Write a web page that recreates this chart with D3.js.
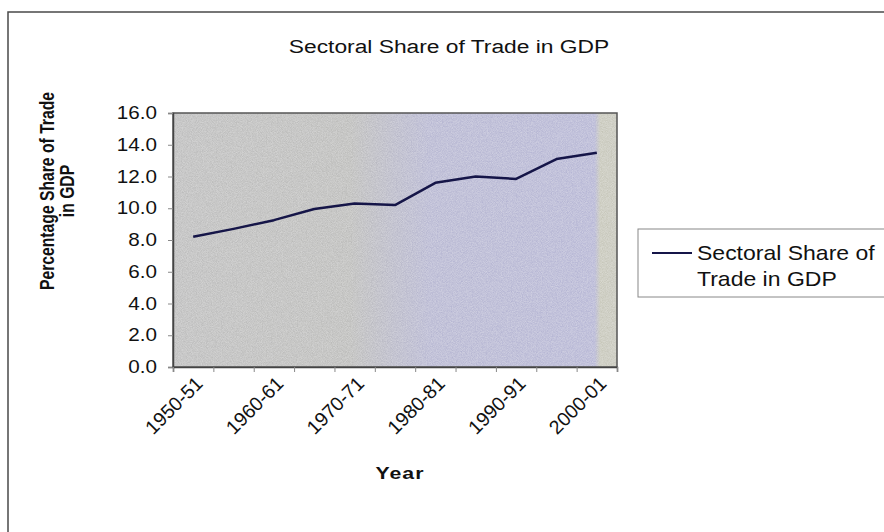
<!DOCTYPE html>
<html><head><meta charset="utf-8">
<script src="https://cdn.jsdelivr.net/npm/d3@7"></script>
<style>
html,body{margin:0;padding:0;background:#fff;}
svg{display:block;font-family:"Liberation Sans",Arial,sans-serif;}
</style></head>
<body>
<svg id="chart" width="884" height="532"></svg>
<script>
const categories = ["1950-51","1955-56","1960-61","1965-66","1970-71","1975-76","1980-81","1985-86","1990-91","1995-96","2000-01"];
const shownLabels = ["1950-51","1960-61","1970-71","1980-81","1990-91","2000-01"];
const tradeShare = [8.2, 8.7, 9.25, 9.95, 10.3, 10.2, 11.6, 12.0, 11.85, 13.1, 13.5];
const yTicks = [0, 2, 4, 6, 8, 10, 12, 14, 16];
const seriesName = "Sectoral Share of Trade in GDP";

const svg = d3.select("#chart");
const W = 884, H = 532;
const plot = {x0: 173, x1: 617, y0: 113, y1: 367};
const SX = 1.18; // horizontal stretch of the scanned original

// outer chart border
svg.append("rect").attr("x", 8).attr("y", 12).attr("width", W).attr("height", H)
  .attr("fill", "#fff").attr("stroke", "#4a4a4a").attr("stroke-width", 1.5);

// defs: gradient + noise
const defs = svg.append("defs");
const g = defs.append("linearGradient").attr("id", "bg").attr("x1", "0").attr("x2", "1").attr("y1", "0").attr("y2", "0");
[[0, "#bababa"], [0.4, "#b9b9b7"], [0.5, "#b5b5c6"], [0.58, "#b3b3d0"], [0.95, "#b2b2d3"], [0.962, "#c4c4b6"], [1, "#c4c4b8"]]
  .forEach(([o, c]) => g.append("stop").attr("offset", o).attr("stop-color", c));
const f = defs.append("filter").attr("id", "noise").attr("x", 0).attr("y", 0).attr("width", 1).attr("height", 1);
f.append("feTurbulence").attr("type", "fractalNoise").attr("baseFrequency", 1.2).attr("numOctaves", 1).attr("seed", 5).attr("result", "t");
f.append("feColorMatrix").attr("in", "t").attr("type", "matrix")
  .attr("values", "0 0 0 0 1  0 0 0 0 1  0 0 0 0 1  0 0 0 0.5 -0.08").attr("result", "n");
f.append("feComposite").attr("in", "n").attr("in2", "SourceGraphic").attr("operator", "in").attr("result", "n2");
f.append("feBlend").attr("in", "SourceGraphic").attr("in2", "n2").attr("mode", "screen");

// title
svg.append("text").attr("transform", `translate(449,53) scale(1.2,1)`).attr("text-anchor", "middle")
  .attr("font-size", 19).attr("fill", "#111").text(seriesName);

const x = d3.scaleBand().domain(categories).range([plot.x0, plot.x1]).padding(0);
const xEdge = d3.scaleLinear().domain([0, categories.length]).range([plot.x0, plot.x1]);
const y = d3.scaleLinear().domain([0, 16]).range([plot.y1, plot.y0]);

// plot area
svg.append("rect").attr("x", plot.x0).attr("y", plot.y0)
  .attr("width", plot.x1 - plot.x0).attr("height", plot.y1 - plot.y0)
  .attr("fill", "url(#bg)").attr("filter", "url(#noise)");
svg.append("rect").attr("x", plot.x0).attr("y", plot.y0)
  .attr("width", plot.x1 - plot.x0).attr("height", plot.y1 - plot.y0)
  .attr("fill", "none").attr("stroke", "#555").attr("stroke-width", 1.5);

// y axis
const yAxis = svg.append("g").attr("transform", `translate(${plot.x0},0)`)
  .call(d3.axisLeft(y).tickValues(yTicks).tickFormat(d3.format(".1f")).tickSize(5).tickPadding(12));
yAxis.select(".domain").attr("stroke", "#444").attr("stroke-width", 1.5);
yAxis.selectAll(".tick line").attr("stroke", "#888");
yAxis.selectAll(".tick text").attr("font-size", 17.5).attr("fill", "#111")
  .attr("font-family", "'Liberation Sans',Arial,sans-serif")
  .attr("x", null)
  .attr("transform", `translate(-16,0) scale(${SX},1)`);

// x axis ticks at category boundaries
const xAxis = svg.append("g").attr("transform", `translate(0,${plot.y1})`)
  .call(d3.axisBottom(xEdge).tickValues(d3.range(categories.length + 1)).tickFormat("").tickSize(5));
xAxis.select(".domain").attr("stroke", "#444").attr("stroke-width", 1.5);
xAxis.selectAll(".tick line").attr("stroke", "#888");

// x labels (rotated)
svg.append("g").selectAll("text").data(shownLabels).join("text")
  .attr("transform", d => `translate(${x(d) + x.bandwidth() / 2 + 1},${plot.y1 + 8}) rotate(-45)`)
  .attr("text-anchor", "end").attr("dy", "0.71em")
  .attr("font-size", 19.5).attr("fill", "#111").text(d => d);

// axis titles
svg.append("text").attr("transform", `translate(400,479) scale(1.25,1)`).attr("text-anchor", "middle")
  .attr("font-size", 17).attr("font-weight", "bold").attr("letter-spacing", 0.8).attr("fill", "#111").text("Year");
const yt = svg.append("text").attr("transform", `translate(54,191) scale(1.25,1) rotate(-90)`)
  .attr("text-anchor", "middle").attr("font-size", 15.7).attr("font-weight", "bold").attr("fill", "#111");
yt.append("tspan").attr("x", 0).attr("dy", 0).text("Percentage Share of Trade");
yt.append("tspan").attr("x", 0).attr("dy", 16).text("in GDP");

// line
const line = d3.line().x((d, i) => x(categories[i]) + x.bandwidth() / 2).y(d => y(d));
svg.append("path").datum(tradeShare).attr("d", line).attr("fill", "none")
  .attr("stroke", "#151548").attr("stroke-width", 2.5).attr("stroke-linejoin", "round");

// legend
const lg = svg.append("g");
lg.append("rect").attr("x", 638).attr("y", 229).attr("width", 260).attr("height", 68)
  .attr("fill", "#fff").attr("stroke", "#888").attr("stroke-width", 1);
lg.append("line").attr("x1", 652).attr("x2", 692).attr("y1", 253).attr("y2", 253)
  .attr("stroke", "#151548").attr("stroke-width", 2);
const lt = lg.append("text").attr("transform", `translate(697,260) scale(1.15,1)`).attr("font-size", 20).attr("fill", "#111");
lt.append("tspan").attr("x", 0).attr("dy", 0).text("Sectoral Share of");
lt.append("tspan").attr("x", 0).attr("dy", 26).text("Trade in GDP");
</script>
</body></html>
